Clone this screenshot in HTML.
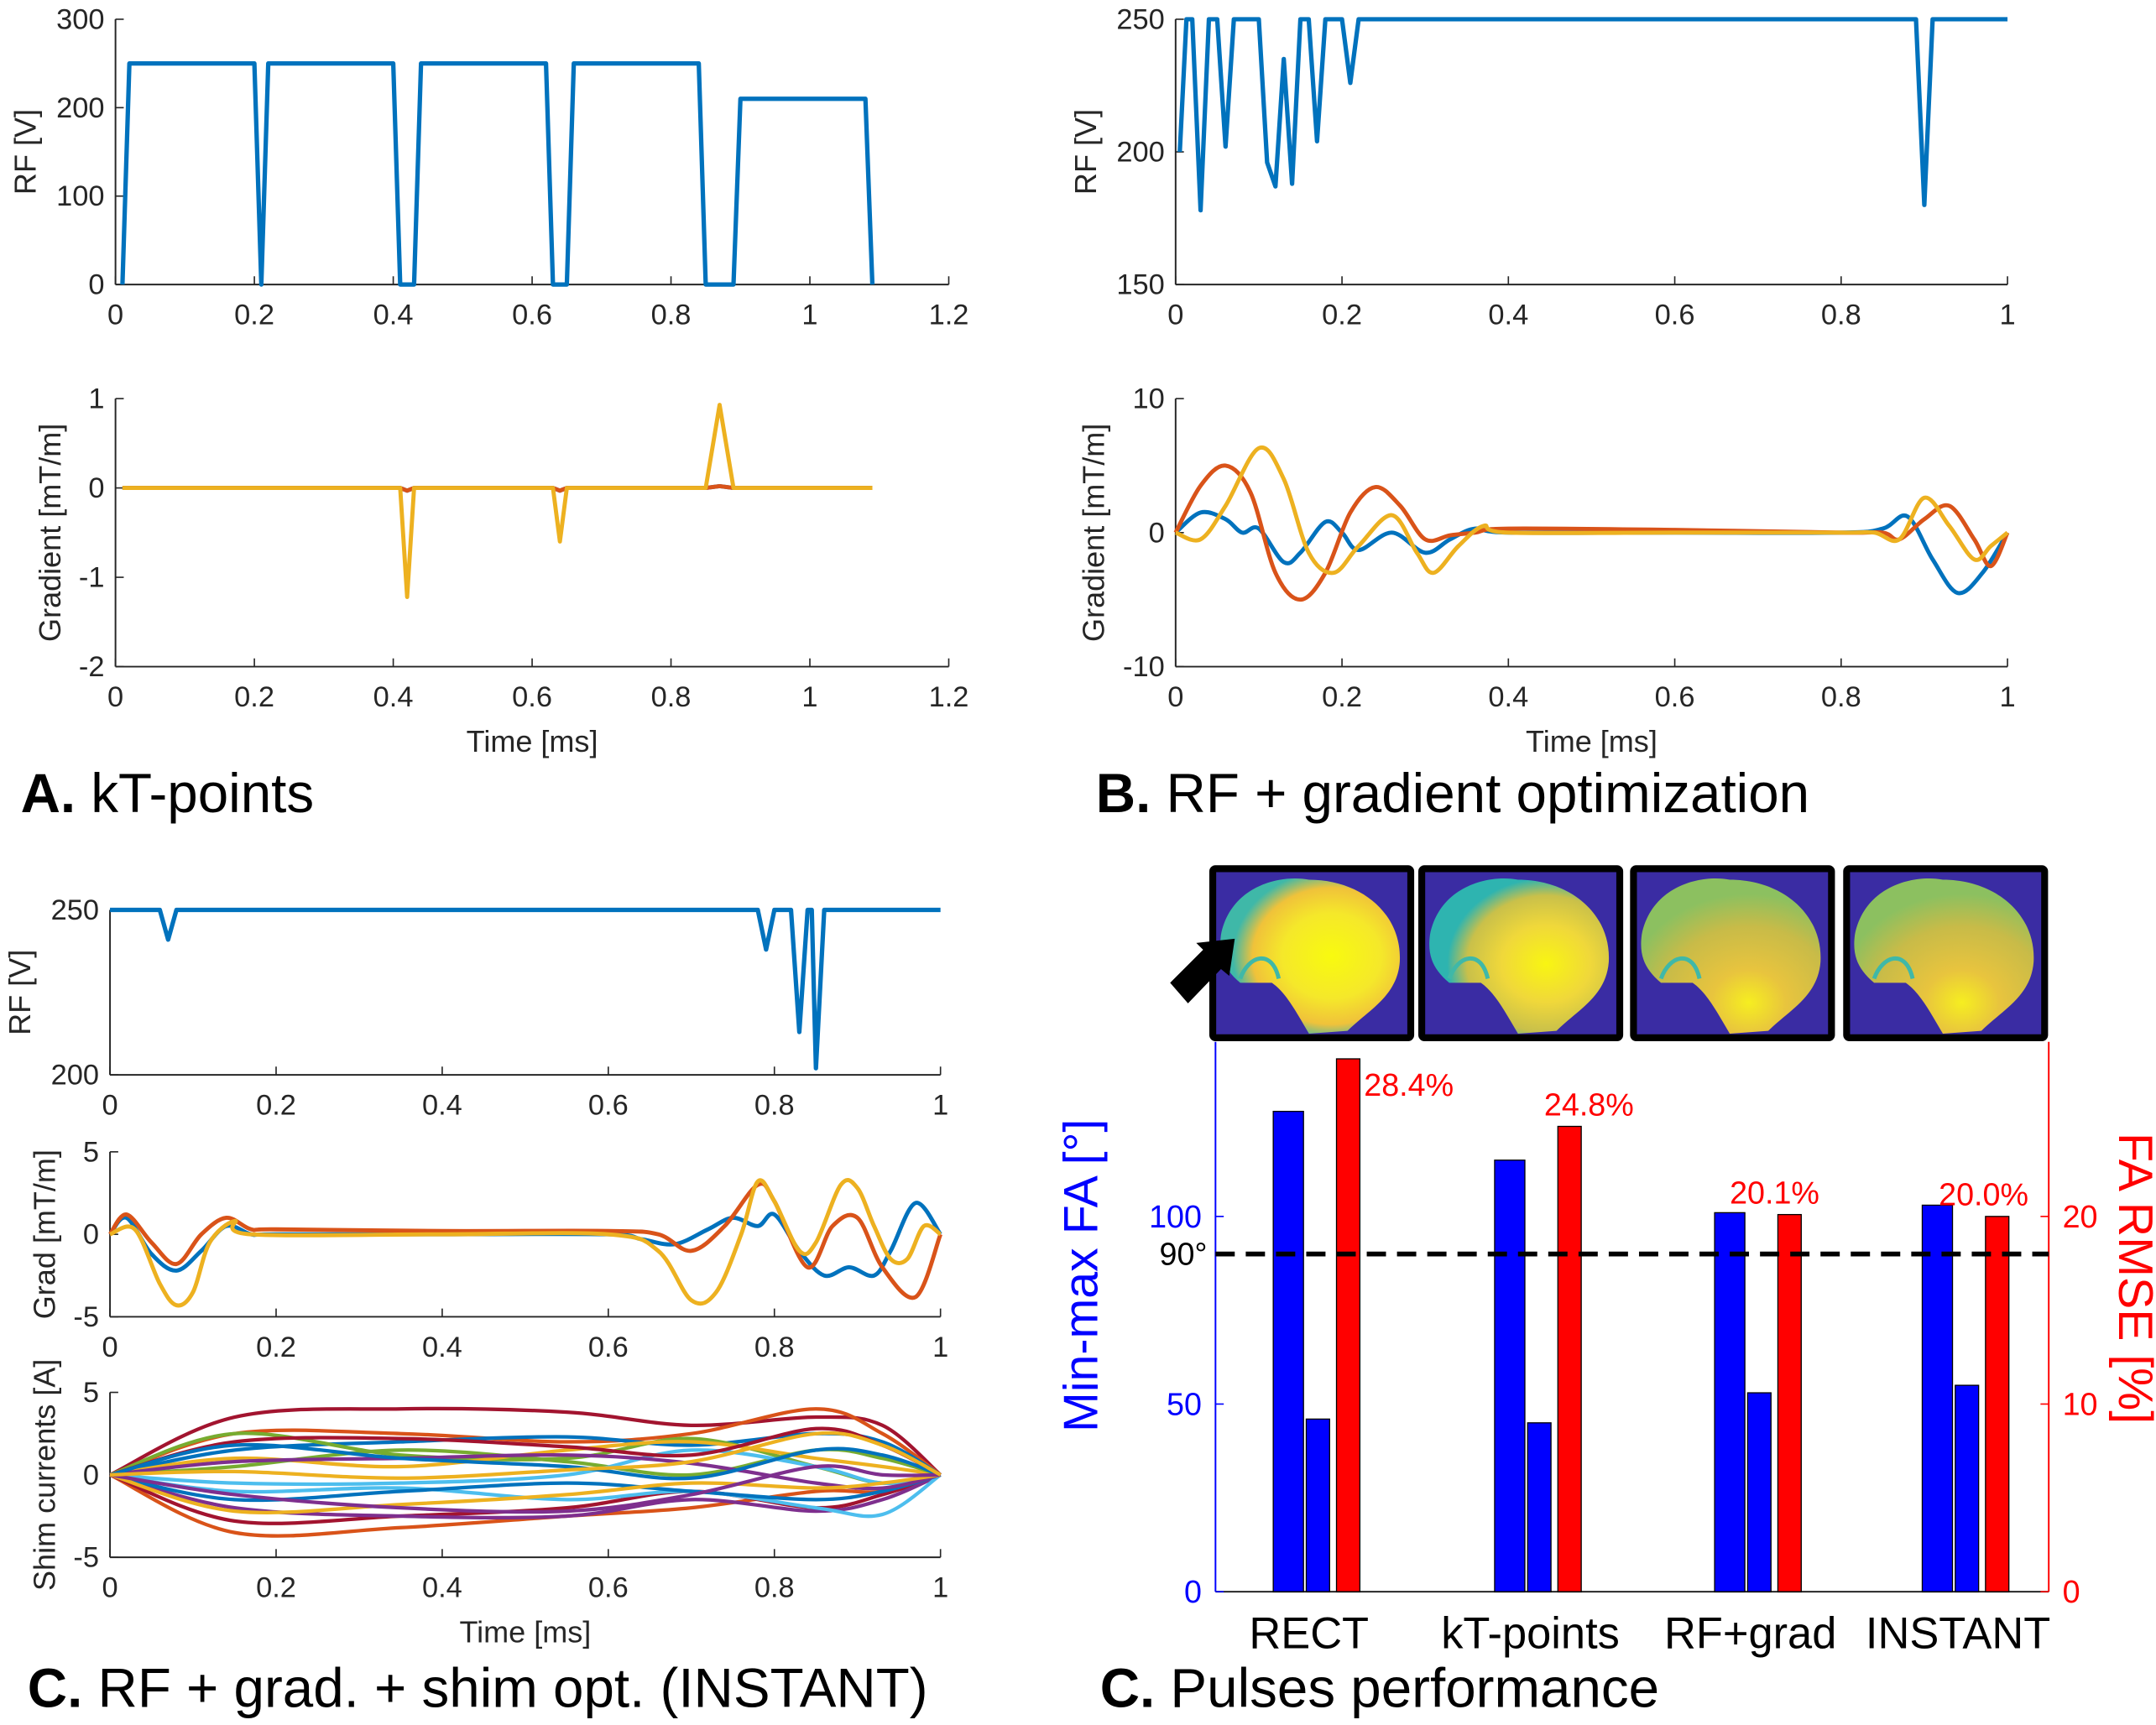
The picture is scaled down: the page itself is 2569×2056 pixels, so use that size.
<!DOCTYPE html>
<html><head><meta charset="utf-8"><style>
html,body{margin:0;padding:0;background:#fff;}
svg{display:block;font-family:"Liberation Sans",Arial,sans-serif;}
</style></head><body>
<svg id="fig" width="2569" height="2056" viewBox="0 0 1568 1255" preserveAspectRatio="none" xmlns="http://www.w3.org/2000/svg">
<defs>
<radialGradient id="g1" cx="0.62" cy="0.5" r="0.55"><stop offset="0" stop-color="#f8fa0f"/><stop offset="0.5" stop-color="#f5e82a"/><stop offset="0.8" stop-color="#f0c23a"/><stop offset="1" stop-color="#3fb8a8"/></radialGradient>
<radialGradient id="g2" cx="0.65" cy="0.55" r="0.55"><stop offset="0" stop-color="#f8f512"/><stop offset="0.45" stop-color="#f0d83a"/><stop offset="0.8" stop-color="#c9c04a"/><stop offset="1" stop-color="#2eb4b0"/></radialGradient>
<radialGradient id="g3" cx="0.6" cy="0.8" r="0.7"><stop offset="0" stop-color="#f6ee20"/><stop offset="0.3" stop-color="#e8c43e"/><stop offset="0.7" stop-color="#c8bb48"/><stop offset="1" stop-color="#8cc060"/></radialGradient>
</defs>
</svg>
<script>
// ---------- data ----------
const aRfT=[0.01,0.02,0.2,0.21,0.22,0.4,0.41,0.43,0.44,0.62,0.63,0.65,0.66,0.84,0.85,0.89,0.9,1.08,1.09];
const aRfV=[0,250,250,0,250,250,0,0,250,250,0,0,250,250,0,0,210,210,0];
const aGyT=[0.01,0.41,0.42,0.43,0.63,0.64,0.65,0.85,0.87,0.89,1.09];
const aGyV=[0,0,-1.22,0,0,-0.6,0,0,0.93,0,0];
const aGrT=[0.01,0.41,0.42,0.43,0.63,0.64,0.65,0.85,0.87,0.89,1.09];
const aGrV=[0,0,-0.03,0,0,-0.03,0,0,0.02,0,0];
const bRfT=[0.005,0.013,0.02,0.03,0.04,0.05,0.06,0.07,0.1,0.11,0.12,0.13,0.14,0.15,0.16,0.17,0.18,0.2,0.21,0.22,0.89,0.9,0.91,1];
const bRfV=[200,250,250,178,250,250,202,250,250,196,187,235,188,250,250,204,250,250,226,250,250,180,250,250];
const bGbT=[0,.03,.06,.08,.1,.13,.15,.18,.2,.22,.26,.3,.33,.36,.4,.6,.8,.85,.88,.91,.94,.97,1];
const bGbV=[0,1.5,1,0,0.3,-2.2,-1.5,0.8,0,-1.3,0,-1.5,-0.5,0.3,0,0,0,0.3,1.2,-2,-4.5,-3,0];
const bGrT=[0,.03,.06,.09,.12,.15,.18,.21,.24,.27,.3,.33,.36,.4,.6,.8,.85,.87,.9,.93,.96,.98,1];
const bGrV=[0,3.5,5,3,-3,-5,-3,1.5,3.4,2,-0.5,-0.2,0,0.3,0.2,0,0,-0.5,1,2,-0.5,-2.5,0];
const bGyT=[0,.03,.06,.1,.13,.16,.19,.22,.26,.29,.31,.34,.37,.4,.6,.8,.84,.87,.9,.93,.96,.98,1];
const bGyV=[0,-0.5,2,6.3,4,-1.5,-3,-1,1.3,-1.5,-3,-1,0.5,0,0,0,0,-0.5,2.6,0.5,-2,-1,0];
const cRfT=[0,0.06,0.07,0.08,0.78,0.79,0.8,0.82,0.83,0.84,0.845,0.85,0.86,1];
const cRfV=[250,250,241,250,250,238,250,250,213,250,250,202,250,250];
const cGbT=[0,.02,.05,.08,.11,.14,.17,.2,.4,.6,.64,.68,.72,.75,.78,.8,.83,.86,.89,.92,.94,.97,1];
const cGbV=[0,1,-1.2,-2.2,-1,0.5,0,0,0,0,-0.3,-0.6,0.3,1,0.5,1.2,-1,-2.5,-2,-2.5,-1,1.9,0];
const cGrT=[0,.02,.05,.08,.11,.14,.17,.2,.4,.6,.66,.7,.74,.78,.8,.84,.87,.9,.93,.97,1];
const cGrV=[0,1.2,-0.5,-1.8,0,1,0.3,0.3,0.2,0.2,0,-1,0.5,3,2,-2,0.5,1,-2,-3.8,0];
const cGyT=[0,.03,.06,.08,.1,.12,.15,.17,.4,.6,.66,.7,.73,.76,.78,.8,.83,.85,.88,.9,.92,.94,.96,.98,1];
const cGyV=[0,0.3,-3,-4.3,-3.5,-0.5,0.8,0,0,0,-1,-4,-3.5,0,3.2,2,-1,-0.5,3,2.8,0.5,-1.5,-1.5,0.5,0];
const shimT=[0,0.15,0.35,0.55,0.7,0.85,0.93,1];
const shimV=[
[0,3.5,4,3.8,3,3.5,3,0],[0,-3.5,-3.2,-2.5,-2,-1,-1,0],[0,2.5,2.5,2,2.5,4,2.5,0],[0,-2.8,-2.5,-2,-1,-2,-1.2,0],
[0,1.5,2,2.3,1.8,2.5,2,0],[0,-2,-2.5,-2.5,-1.5,-2.2,-1.5,0],[0,2.5,1.2,1,2.2,0.5,-0.5,0],[0,-1,-0.8,-1.5,-1,-2,-2.4,0],
[0,1,0.5,1.5,2,1,0.5,0],[0,-1.5,-1,-0.5,-1,-1.5,-1,0],[0,0.5,1.5,0.8,0,1.5,1,0],[0,-0.5,-0.5,0,1.5,0.5,-0.5,0],
[0,2,2.2,1.7,1.2,2.8,1.8,0],[0,0.8,1,1.2,0.7,-0.5,-0.8,0],[0,-2.2,-1.8,-1.2,-0.5,-0.8,-0.5,0],[0,1.8,1,0.5,-0.2,1.5,1.2,0],
[0,-1.2,-2,-2.2,-1.2,0.5,0,0],[0,0.2,-0.2,0.3,0.8,2.5,1.8,0]];
const shimC=["#A2142F","#D95319","#D95319","#A2142F","#0072BD","#7E2F8E","#77AC30","#4DBEEE","#EDB120","#0072BD","#77AC30","#4DBEEE","#A2142F","#7E2F8E","#EDB120","#0072BD","#7E2F8E","#EDB120"];
const cats=["RECT","kT-points","RF+grad","INSTANT"];
const maxFA=[128,115,101,103];
const minFA=[46,45,53,55];
const rmse=[28.4,24.8,20.1,20.0];
const rmseLbl=["28.4%","24.8%","20.1%","20.0%"];

// ---------- helpers ----------
const svg=document.getElementById('fig');
const NS="http://www.w3.org/2000/svg";
function mk(tag,attrs,parent){const e=document.createElementNS(NS,tag);for(const k in attrs)e.setAttribute(k,attrs[k]);(parent||svg).appendChild(e);return e;}
function txt(s,x,y,attrs,parent){const e=mk('text',Object.assign({x:x,y:y},attrs),parent);e.textContent=s;return e;}
function axes(c){
  const g=mk('g',{});
  
  
  c.sx=v=>c.x0+(v-c.xmin)/(c.xmax-c.xmin)*(c.x1-c.x0);
  c.sy=v=>c.y1-(v-c.ymin)/(c.ymax-c.ymin)*(c.y1-c.y0);
  mk('line',{x1:c.x0,y1:c.y1,x2:c.x1,y2:c.y1,stroke:'#262626','stroke-width':1.2},g);
  mk('line',{x1:c.x0,y1:c.y0,x2:c.x0,y2:c.y1,stroke:'#262626','stroke-width':1.2},g);
  c.xt.forEach(v=>{const x=c.sx(v);mk('line',{x1:x,y1:c.y1,x2:x,y2:c.y1-6,stroke:'#262626'},g);
    const t=txt(String(v),x,c.y1+29,{'font-size':21,'text-anchor':'middle',fill:'#262626'},g);
    });
  c.yt.forEach(v=>{const y=c.sy(v);mk('line',{x1:c.x0,y1:y,x2:c.x0+6,y2:y,stroke:'#262626'},g);
    const t=txt(String(v),c.x0-8,y+7,{'font-size':21,'text-anchor':'end',fill:'#262626'},g);
    });
  if(c.ylabel){const t=txt(c.ylabel,0,0,{'font-size':22,'text-anchor':'middle',fill:'#262626',transform:`translate(${c.ylx},${(c.y0+c.y1)/2}) rotate(-90)`},g);
    }
  if(c.xlabel){const t=txt(c.xlabel,(c.x0+c.x1)/2,c.y1+62,{'font-size':22,'text-anchor':'middle',fill:'#262626'},g);
    }
  c.g=g;return c;
}
function line(c,T,V,color,smooth,w,name){
  const p=T.map((t,i)=>[c.sx(t),c.sy(V[i])]);
  let d='M'+p[0][0]+','+p[0][1];
  if(!smooth){for(let i=1;i<p.length;i++)d+='L'+p[i][0]+','+p[i][1];}
  else{for(let i=0;i<p.length-1;i++){const p0=p[Math.max(0,i-1)],p1=p[i],p2=p[i+1],p3=p[Math.min(p.length-1,i+2)];
    d+=`C${p1[0]+(p2[0]-p0[0])/6},${p1[1]+(p2[1]-p0[1])/6} ${p2[0]-(p3[0]-p1[0])/6},${p2[1]-(p3[1]-p1[1])/6} ${p2[0]},${p2[1]}`;}}
  const e=mk('path',{d:d,fill:'none',stroke:color,'stroke-width':w||3,'stroke-linejoin':'round'},c.g);
  
  
}
const BL="#0072BD",RD="#D95319",YE="#EDB120";

// Panel A
const aR=axes({name:'panel-a-rf-axes',x0:84,x1:690,y0:14,y1:207,xmin:0,xmax:1.2,ymin:0,ymax:300,xt:[0,0.2,0.4,0.6,0.8,1,1.2],yt:[0,100,200,300],ylabel:'RF [V]',ylx:26});
line(aR,aRfT,aRfV,BL,false,3.2,'rf-line');
const aG=axes({name:'panel-a-gradient-axes',x0:84,x1:690,y0:290,y1:485,xmin:0,xmax:1.2,ymin:-2,ymax:1,xt:[0,0.2,0.4,0.6,0.8,1,1.2],yt:[-2,-1,0,1],ylabel:'Gradient [mT/m]',ylx:44,xlabel:'Time [ms]'});
line(aG,aGrT,aGrV,BL,false,3,'gradient-x-line');
line(aG,aGrT,aGrV,RD,false,3,'gradient-y-line');
line(aG,aGyT,aGyV,YE,false,3,'gradient-z-line');
// Panel B
const bR=axes({name:'panel-b-rf-axes',x0:855,x1:1460,y0:14,y1:207,xmin:0,xmax:1,ymin:150,ymax:250,xt:[0,0.2,0.4,0.6,0.8,1],yt:[150,200,250],ylabel:'RF [V]',ylx:797});
line(bR,bRfT,bRfV,BL,false,3.2,'rf-line');
const bG=axes({name:'panel-b-gradient-axes',x0:855,x1:1460,y0:290,y1:485,xmin:0,xmax:1,ymin:-10,ymax:10,xt:[0,0.2,0.4,0.6,0.8,1],yt:[-10,0,10],ylabel:'Gradient [mT/m]',ylx:803,xlabel:'Time [ms]'});
line(bG,bGbT,bGbV,BL,true,3,'gradient-x-line');
line(bG,bGrT,bGrV,RD,true,3,'gradient-y-line');
line(bG,bGyT,bGyV,YE,true,3,'gradient-z-line');
// Panel C
const cR=axes({name:'panel-c-rf-axes',x0:80,x1:684,y0:662,y1:782,xmin:0,xmax:1,ymin:200,ymax:250,xt:[0,0.2,0.4,0.6,0.8,1],yt:[200,250],ylabel:'RF [V]',ylx:22});
line(cR,cRfT,cRfV,BL,false,3.2,'rf-line');
const cG=axes({name:'panel-c-gradient-axes',x0:80,x1:684,y0:838,y1:958,xmin:0,xmax:1,ymin:-5,ymax:5,xt:[0,0.2,0.4,0.6,0.8,1],yt:[-5,0,5],ylabel:'Grad [mT/m]',ylx:40});
line(cG,cGbT,cGbV,BL,true,3,'gradient-x-line');
line(cG,cGrT,cGrV,RD,true,3,'gradient-y-line');
line(cG,cGyT,cGyV,YE,true,3,'gradient-z-line');
const cS=axes({name:'panel-c-shim-axes',x0:80,x1:684,y0:1013,y1:1133,xmin:0,xmax:1,ymin:-5,ymax:5,xt:[0,0.2,0.4,0.6,0.8,1],yt:[-5,0,5],ylabel:'Shim currents [A]',ylx:40,xlabel:'Time [ms]'});
shimV.forEach((v,i)=>line(cS,shimT,v,shimC[i],true,2.6,'shim-current-line'));

// Panel titles
[['A.',' kT-points',15,591],['B.',' RF + gradient optimization',797,591],['C.',' RF + grad. + shim opt. (INSTANT)',20,1242],['C.',' Pulses performance',800,1242]].forEach(a=>{
  const t=mk('text',{x:a[2],y:a[3],'font-size':40,fill:'#000'});
  
  const b=mk('tspan',{'font-weight':'bold'},t);b.textContent=a[0];
  const n=mk('tspan',{},t);n.textContent=a[1];
});

// Brain images
[880,1032,1186,1341].forEach((x,i)=>{
  const g=mk('g',{});
  
  
  mk('rect',{x:x+2,y:632,width:144,height:123,fill:'#3a2ca3',stroke:'#000','stroke-width':5,rx:2},g);
  const grad=i==0?'url(#g1)':(i==1?'url(#g2)':'url(#g3)');
  mk('path',{d:`M${x+8},${680} C${x+15},${645} ${x+50},${636} ${x+72},${640} C${x+110},${640} ${x+140},${665} ${x+138},${700} C${x+136},${725} ${x+115},${735} ${x+100},${750} L${x+72},${752} C${x+62},${735} ${x+55},${722} ${x+45},${715} L${x+22},${715} C${x+10},${705} ${x+6},${695} ${x+8},${680}Z`,fill:grad},g);
  mk('path',{d:`M${x+22},${712} C${x+28},${695} ${x+45},${690} ${x+50},${712}`,fill:'none',stroke:'#3fb8a8','stroke-width':3},g);
});
const arr=mk('polygon',{points:'851,715 875,691 870,686 898,683 894,710 888,705 864,730',fill:'#000'});


// Bar chart
const bx0=884,bx1=1490,by0=758,by1=1158;
const syL=v=>by1-v*2.73, syR=v=>by1-v*13.65;
const bc=mk('g',{});


mk('line',{x1:bx0,y1:by0,x2:bx0,y2:by1,stroke:'#0000ff','stroke-width':1.2},bc);
mk('line',{x1:bx1,y1:by0,x2:bx1,y2:by1,stroke:'#ff0000','stroke-width':1.2},bc);
mk('line',{x1:bx0,y1:by1,x2:bx1,y2:by1,stroke:'#262626','stroke-width':1.2},bc);
[0,50,100].forEach(v=>{mk('line',{x1:bx0,y1:syL(v),x2:bx0+6,y2:syL(v),stroke:'#00f'},bc);
  const t=txt(String(v),bx0-10,syL(v)+8,{'font-size':23,'text-anchor':'end',fill:'#0000ff'},bc);});
[0,10,20].forEach(v=>{mk('line',{x1:bx1,y1:syR(v),x2:bx1-6,y2:syR(v),stroke:'#f00'},bc);
  const t=txt(String(v),bx1+10,syR(v)+8,{'font-size':23,'text-anchor':'start',fill:'#ff0000'},bc);});
let t=txt('Min-max FA [°]',0,0,{'font-size':35,'text-anchor':'middle',fill:'#0000ff',transform:`translate(798,928) rotate(-90)`},bc);

t=txt('FA RMSE [%]',0,0,{'font-size':35,'text-anchor':'middle',fill:'#ff0000',transform:`translate(1541,930) rotate(90)`},bc);

const cx=[952,1113,1273,1424];
cats.forEach((c,i)=>{
  const x=cx[i];
  let r=mk('rect',{x:x-26,y:syL(maxFA[i]),width:22,height:syL(0)-syL(maxFA[i]),fill:'#0000ff',stroke:'#000','stroke-width':0.8},bc);
  
  r=mk('rect',{x:x-2,y:syL(minFA[i]),width:17,height:syL(0)-syL(minFA[i]),fill:'#0000ff',stroke:'#000','stroke-width':0.8},bc);
  
  r=mk('rect',{x:x+20,y:syR(rmse[i]),width:17,height:syR(0)-syR(rmse[i]),fill:'#ff0000',stroke:'#000','stroke-width':0.8},bc);
  
  let lx=[x+40,x+10,x-15,x-14][i], ly=[syR(rmse[i])+27,syR(rmse[i])-8,syR(rmse[i])-8,syR(rmse[i])-8][i];
  let l=txt(rmseLbl[i],lx,ly,{'font-size':23,fill:'#ff0000'},bc);
  
  l=txt(c,x,by1+41,{'font-size':32,'text-anchor':'middle',fill:'#000'},bc);
  
});
const dl=mk('line',{x1:bx0,y1:syL(90),x2:bx1,y2:syL(90),stroke:'#000','stroke-width':3.5,'stroke-dasharray':'14,8'},bc);

t=txt('90°',878,syL(90)+8,{'font-size':23,'text-anchor':'end',fill:'#000'},bc);

</script>
</body></html>
